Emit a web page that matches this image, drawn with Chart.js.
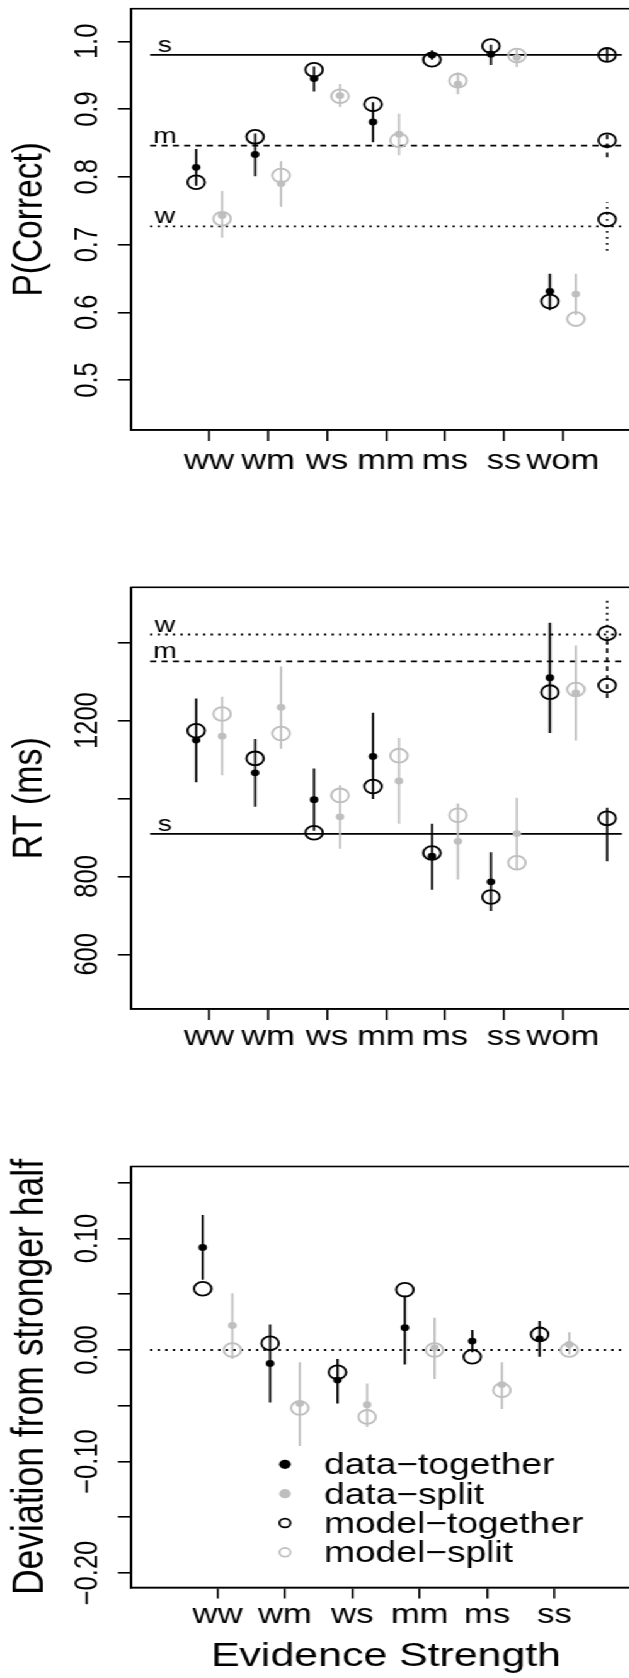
<!DOCTYPE html>
<html>
<head>
<meta charset="utf-8">
<script src="https://cdn.jsdelivr.net/npm/chart.js@4.4.1/dist/chart.umd.min.js"></script>
<style>
  html, body { margin: 0; padding: 0; background: #ffffff; width: 629px; height: 1678px; overflow: hidden; }
  #wrap { position: absolute; left: 0; top: 0; width: 540px; height: 1678px; transform: scaleX(1.26); transform-origin: 0 0; }
  #wrap canvas { position: absolute; left: 0; }
</style>
</head>
<body>
<div id="wrap">
  <canvas id="c1" width="540" height="540" style="top:0px"></canvas>
  <canvas id="c2" width="540" height="560" style="top:540px"></canvas>
  <canvas id="c3" width="540" height="578" style="top:1100px"></canvas>
</div>
<script>
// ---------------- DATA ----------------
const categories7 = ['ww', 'wm', 'ws', 'mm', 'ms', 'ss', 'wom'];
const categories6 = ['ww', 'wm', 'ws', 'mm', 'ms', 'ss'];
const seriesNames = ['data\u2212together', 'data\u2212split', 'model\u2212together', 'model\u2212split'];
const singleLabels = ['s', 'm', 'w'];

// Panel 1: P(Correct)
const pcTickValues = [0.5, 0.6, 0.7, 0.8, 0.9, 1.0];
const pcTickLabels = ['0.5', '0.6', '0.7', '0.8', '0.9', '1.0'];
const pcDataTogether   = [0.814, 0.833, 0.945, 0.881, 0.980, 0.981, 0.631];
const pcDataTogetherLo = [0.787, 0.801, 0.926, 0.851, 0.973, 0.965, 0.603];
const pcDataTogetherHi = [0.841, 0.864, 0.963, 0.910, 0.987, 0.995, 0.657];
const pcDataSplit      = [0.743, 0.790, 0.920, 0.863, 0.937, 0.976, 0.627];
const pcDataSplitLo    = [0.710, 0.756, 0.903, 0.832, 0.922, 0.962, 0.596];
const pcDataSplitHi    = [0.779, 0.823, 0.937, 0.893, 0.954, 0.989, 0.657];
const pcModelTogether  = [0.792, 0.859, 0.958, 0.907, 0.973, 0.993, 0.616];
const pcModelSplit     = [0.738, 0.802, 0.919, 0.854, 0.942, 0.979, 0.590];
const pcSingleRef   = [0.980, 0.846, 0.727];
const pcSingleModel = [0.980, 0.854, 0.737];
const pcSingleLo    = [0.971, 0.829, 0.691];
const pcSingleHi    = [0.990, 0.864, 0.763];

// Panel 2: RT (ms)
const rtTickValues = [600, 800, 1000, 1200, 1400];
const rtTickLabels = ['600', '800', '', '1200', ''];
const rtDataTogether   = [1150, 1066, 997, 1108, 852, 786, 1310];
const rtDataTogetherLo = [1042, 979, 917, 999, 766, 711, 1168];
const rtDataTogetherHi = [1257, 1153, 1077, 1220, 935, 862, 1451];
const rtDataSplit      = [1160, 1234, 953, 1045, 890, 910, 1271];
const rtDataSplitLo    = [1060, 1128, 871, 935, 792, 818, 1149];
const rtDataSplitHi    = [1261, 1339, 1034, 1155, 987, 1002, 1393];
const rtModelTogether  = [1174, 1103, 912, 1031, 860, 747, 1273];
const rtModelSplit     = [1217, 1167, 1008, 1110, 957, 835, 1280];
const rtSingleRef   = [909, 1352, 1421];
const rtSingleModel = [949, 1290, 1424];
const rtSingleLo    = [839, 1258, 1395];
const rtSingleHi    = [976, 1405, 1518];

// Panel 3: Deviation from stronger half
const devTickValues = [-0.20, -0.15, -0.10, -0.05, 0.00, 0.05, 0.10, 0.15];
const devTickLabels = ['\u22120.20', '', '\u22120.10', '', '0.00', '', '0.10', ''];
const devDataTogether   = [0.092, -0.012, -0.027, 0.020, 0.008, 0.010];
const devDataTogetherLo = [0.063, -0.047, -0.048, -0.013, -0.002, -0.006];
const devDataTogetherHi = [0.121, 0.023, -0.008, 0.049, 0.018, 0.026];
const devDataSplit      = [0.022, -0.048, -0.049, 0.002, -0.031, 0.005];
const devDataSplitLo    = [-0.008, -0.086, -0.069, -0.026, -0.053, -0.004];
const devDataSplitHi    = [0.051, -0.011, -0.030, 0.029, -0.011, 0.016];
const devModelTogether  = [0.055, 0.006, -0.020, 0.054, -0.006, 0.014];
const devModelSplit     = [0.000, -0.052, -0.060, 0.000, -0.036, 0.000];
const devRefValue = [0.0];

// ---------------- STYLE ----------------
const FONT = "'Liberation Sans', Arial, Helvetica, sans-serif";
const BLACK = '#000000';
const GRAY = '#BEBEBE';
const X_OFFSET = 0.22;
const SINGLE_X = 7.75;
const AREA_LEFT = 104.2;
const PAD_RIGHT = 31.5;
const Y_TICK_LEN = 10.6;
const X_TICK_LEN = 11;
const Y_LABEL_CENTER = 70;
const X_TICK_FONT = 27.5;
const Y_TICK_FONT = 25.5;
const dashFor = { s: [], m: [4.8, 4.2], w: [1.8, 4.2] };

// ---------------- HELPERS ----------------
function measure(text, size) {
  const c = document.createElement('canvas').getContext('2d');
  c.font = 'normal normal ' + size + 'px ' + FONT;
  return c.measureText(text).width;
}
function yPadFor(labels, size) {
  const w = Math.max.apply(null, labels.map(l => measure(l, size)));
  return (AREA_LEFT - Y_TICK_LEN - Y_LABEL_CENTER) - w / 2;
}
function xsFor(n, dx) { return Array.from({ length: n }, (_, i) => i + 1 + dx); }
function pts(xs, ys) { return ys.map((y, i) => ({ x: xs[i], y: y })); }
function segs(xs, lo, hi) {
  const out = [];
  for (let i = 0; i < lo.length; i++) {
    out.push({ x: xs[i], y: lo[i] }, { x: xs[i], y: hi[i] }, { x: xs[i], y: null });
  }
  return out;
}
function lineDS(label, data, color, dash, width, order) {
  return { label: label, data: data, showLine: true, borderColor: color, backgroundColor: color,
    borderWidth: width, borderDash: dash, borderCapStyle: 'butt', pointRadius: 0, pointHoverRadius: 0,
    fill: false, spanGaps: false, tension: 0, order: order };
}
function dotDS(label, data, color, r, order) {
  return { label: label, data: data, showLine: false, pointStyle: 'circle', pointRadius: r, pointHoverRadius: r,
    backgroundColor: color, borderColor: color, pointBackgroundColor: color, pointBorderColor: color,
    borderWidth: 0, pointBorderWidth: 0, order: order };
}
function ringDS(label, data, color, r, order) {
  return { label: label, data: data, showLine: false, pointStyle: 'circle', pointRadius: r, pointHoverRadius: r,
    backgroundColor: 'rgba(0,0,0,0)', pointBackgroundColor: 'rgba(0,0,0,0)', borderColor: color, pointBorderColor: color,
    borderWidth: 1.8, pointBorderWidth: 1.8, order: order };
}

const framePlugin = {
  id: 'frame',
  beforeDatasetsDraw(chart) {
    const a = chart.chartArea, ctx = chart.ctx;
    ctx.save();
    ctx.strokeStyle = BLACK; ctx.lineWidth = 1.6;
    ctx.strokeRect(a.left, a.top, a.right - a.left, a.bottom - a.top);
    ctx.restore();
  }
};
function refLabelPlugin(labels, values, xVal) {
  return {
    id: 'refLabels',
    afterDatasetsDraw(chart) {
      const ctx = chart.ctx, sx = chart.scales.x, sy = chart.scales.y;
      ctx.save();
      ctx.font = '22.5px ' + FONT; ctx.fillStyle = BLACK;
      ctx.textAlign = 'center'; ctx.textBaseline = 'alphabetic';
      labels.forEach((t, i) => ctx.fillText(t, sx.getPixelForValue(xVal), sy.getPixelForValue(values[i]) - 3));
      ctx.restore();
    }
  };
}
function legendPlugin(names, styles, xVal) {
  return {
    id: 'panelLegend',
    afterDatasetsDraw(chart) {
      const ctx = chart.ctx, a = chart.chartArea;
      const sx = chart.scales.x.getPixelForValue(xVal);
      ctx.save();
      ctx.font = '29.5px ' + FONT; ctx.textAlign = 'left'; ctx.textBaseline = 'alphabetic';
      names.forEach((n, i) => {
        const y = a.top + 297.8 + i * 29.35;
        const st = styles[i];
        ctx.beginPath();
        if (st.filled) { ctx.arc(sx, y, 4.6, 0, Math.PI * 2); ctx.fillStyle = st.color; ctx.fill(); }
        else { ctx.arc(sx, y, 4.4, 0, Math.PI * 2); ctx.strokeStyle = st.color; ctx.lineWidth = 1.7; ctx.stroke(); }
        ctx.fillStyle = BLACK;
        ctx.fillText(n, sx + 31, y + 10);
      });
      ctx.restore();
    }
  };
}

function buildPanel(id, p) {
  const n = p.categories.length;
  const xsT = xsFor(n, -X_OFFSET), xsS = xsFor(n, X_OFFSET);
  const ds = [];
  p.refValues.forEach((v, i) => {
    const key = p.refKeys[i];
    ds.push(lineDS('ref ' + key, [{ x: 0, y: v }, { x: p.refEnd, y: v }], BLACK, dashFor[key], 1.8, 20));
  });
  ds.push(lineDS('err together', segs(xsT, p.dtLo, p.dtHi), BLACK, [], 1.75, 15));
  ds.push(lineDS('err split', segs(xsS, p.dsLo, p.dsHi), GRAY, [], 1.75, 16));
  if (p.singleModel) {
    p.singleModel.forEach((v, i) => {
      const key = p.refKeys[i];
      ds.push(lineDS('single err ' + key, segs([SINGLE_X], [p.singleLo[i]], [p.singleHi[i]]), BLACK, dashFor[key], 1.75, 14));
    });
    ds.push(ringDS('model single', pts(p.singleModel.map(() => SINGLE_X), p.singleModel), BLACK, 6.9, 9));
  }
  ds.push(ringDS(seriesNames[3], pts(xsS, p.ms), GRAY, 6.9, 8));
  ds.push(ringDS(seriesNames[2], pts(xsT, p.mt), BLACK, 6.9, 7));
  ds.push(dotDS(seriesNames[1], pts(xsS, p.ds), GRAY, 3.4, 5));
  ds.push(dotDS(seriesNames[0], pts(xsT, p.dt), BLACK, 3.4, 4));

  const xTickPos = p.categories.map((c, i) => i + 1);
  const plugins = [framePlugin];
  if (p.refLabels) plugins.push(refLabelPlugin(p.refLabels, p.refValues, 0.25));
  if (p.legend) plugins.push(legendPlugin(seriesNames, p.legend, 2.0));

  return new Chart(document.getElementById(id), {
    type: 'scatter',
    data: { datasets: ds },
    plugins: plugins,
    options: {
      responsive: false, animation: false, events: [],
      layout: { padding: { left: 0, right: PAD_RIGHT, top: p.padTop, bottom: 0 } },
      plugins: { legend: { display: false }, tooltip: { enabled: false } },
      scales: {
        x: {
          type: 'linear', min: p.xMin, max: p.xMax,
          afterBuildTicks: s => { s.ticks = xTickPos.map(v => ({ value: v })); },
          afterFit: s => { s.height = p.xAxisH; s.paddingLeft = 0; s.paddingRight = 0; },
          ticks: { autoSkip: false, minRotation: 0, maxRotation: 0, padding: p.xPad, color: BLACK,
            font: { family: FONT, size: X_TICK_FONT },
            callback: v => { const k = xTickPos.indexOf(v); return k >= 0 ? p.categories[k] : ''; } },
          grid: { drawOnChartArea: false, drawTicks: true, tickLength: X_TICK_LEN, color: BLACK, lineWidth: 1.6 },
          border: { display: true, color: BLACK, width: 1.6 },
          title: p.xTitle ? { display: true, text: p.xTitle, color: BLACK, font: { family: FONT, size: 34 }, padding: { top: 0, bottom: 1 } } : { display: false }
        },
        y: {
          type: 'linear', min: p.yMin, max: p.yMax,
          afterBuildTicks: s => { s.ticks = p.yTicks.map(v => ({ value: v })); },
          afterFit: s => { s.width = AREA_LEFT; s.paddingTop = 0; s.paddingBottom = 0; },
          ticks: { autoSkip: false, minRotation: 90, maxRotation: 90, crossAlign: 'center',
            padding: yPadFor(p.yLabels, Y_TICK_FONT), color: BLACK, font: { family: FONT, size: Y_TICK_FONT },
            callback: v => { const k = p.yTicks.indexOf(v); return k >= 0 ? p.yLabels[k] : ''; } },
          grid: { drawOnChartArea: false, drawTicks: true, tickLength: Y_TICK_LEN, color: BLACK, lineWidth: 1.6 },
          border: { display: true, color: BLACK, width: 1.6 },
          title: { display: true, text: p.yTitle, color: BLACK, font: { family: FONT, size: p.yTitleSize }, padding: { top: p.yTitlePad, bottom: 0 } }
        }
      }
    }
  });
}

buildPanel('c1', {
  categories: categories7, xMin: -0.32, xMax: 8.32, refEnd: 8,
  yMin: 0.4263, yMax: 1.0482, yTicks: pcTickValues, yLabels: pcTickLabels,
  yTitle: 'P(Correct)', yTitleSize: 33.5, yTitlePad: 3.9,
  padTop: 8, xAxisH: 110, xPad: 3.6,
  refKeys: singleLabels, refValues: pcSingleRef, refLabels: singleLabels,
  dt: pcDataTogether, dtLo: pcDataTogetherLo, dtHi: pcDataTogetherHi,
  ds: pcDataSplit, dsLo: pcDataSplitLo, dsHi: pcDataSplitHi,
  mt: pcModelTogether, ms: pcModelSplit,
  singleModel: pcSingleModel, singleLo: pcSingleLo, singleHi: pcSingleHi
});

buildPanel('c2', {
  categories: categories7, xMin: -0.32, xMax: 8.32, refEnd: 8,
  yMin: 459.6, yMax: 1542.2, yTicks: rtTickValues, yLabels: rtTickLabels,
  yTitle: 'RT (ms)', yTitleSize: 34, yTitlePad: 3.6,
  padTop: 47.3, xAxisH: 91, xPad: 1.2,
  refKeys: singleLabels, refValues: rtSingleRef, refLabels: singleLabels,
  dt: rtDataTogether, dtLo: rtDataTogetherLo, dtHi: rtDataTogetherHi,
  ds: rtDataSplit, dsLo: rtDataSplitLo, dsHi: rtDataSplitHi,
  mt: rtModelTogether, ms: rtModelSplit,
  singleModel: rtSingleModel, singleLo: rtSingleLo, singleHi: rtSingleHi
});

buildPanel('c3', {
  categories: categories6, xMin: -0.28, xMax: 7.28, refEnd: 7,
  yMin: -0.2130, yMax: 0.1646, yTicks: devTickValues, yLabels: devTickLabels,
  yTitle: 'Deviation from stronger half', yTitleSize: 35.5, yTitlePad: 2.7,
  padTop: 66.5, xAxisH: 90.5, xPad: 0, xTitle: 'Evidence Strength',
  refKeys: ['w'], refValues: devRefValue, refLabels: null,
  dt: devDataTogether, dtLo: devDataTogetherLo, dtHi: devDataTogetherHi,
  ds: devDataSplit, dsLo: devDataSplitLo, dsHi: devDataSplitHi,
  mt: devModelTogether, ms: devModelSplit,
  singleModel: null,
  legend: [{ filled: true, color: BLACK }, { filled: true, color: GRAY }, { filled: false, color: BLACK }, { filled: false, color: GRAY }]
});
</script>
</body>
</html>
